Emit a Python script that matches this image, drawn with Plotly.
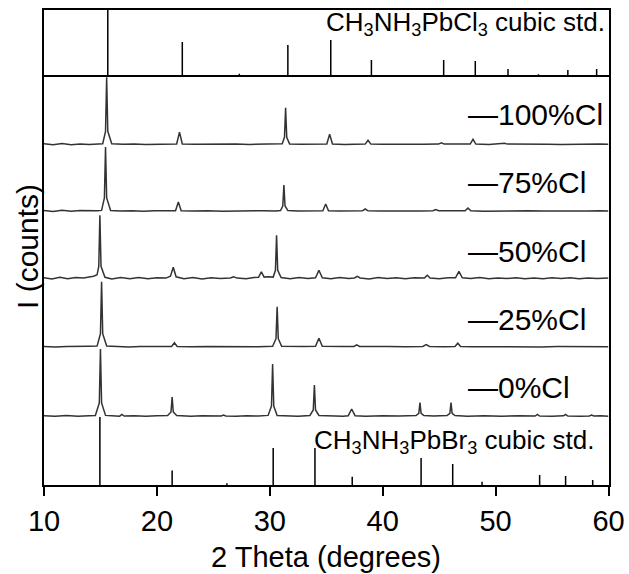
import plotly.graph_objects as go

# ---------------- data (2 theta in degrees, intensity in arbitrary units) ----------------
cl_std_pos = [15.65, 22.25, 27.3, 31.6, 35.4, 39.0, 45.4, 48.2, 51.1, 53.8, 56.4, 58.95]
cl_std_int = [67, 35, 3.3, 32, 37, 17, 17, 16, 8, 2.7, 7, 8]

br_std_pos = [14.95, 21.35, 26.2, 30.3, 34.0, 37.3, 43.4, 46.2, 48.8, 53.9, 56.2, 58.6]
br_std_int = [68, 14.5, 1.7, 37, 37, 8.3, 27, 21, 3.3, 10, 9, 5]

x_0 = [10.0, 11.0, 12.0, 13.0, 14.0, 14.55, 14.9, 15.0, 15.1, 15.45, 16.0, 16.7, 16.9, 17.1, 18.0, 19.0, 20.0,
       20.95, 21.25, 21.35, 21.45, 21.75, 23.0, 24.0, 25.7, 25.9, 26.1, 27.0, 28.0, 29.0, 29.85, 30.15, 30.25,
       30.35, 30.65, 31.5, 32.5, 33.55, 33.85, 33.95, 34.05, 34.35, 35.5, 36.5, 36.95, 37.25, 37.55, 38.5, 40.0,
       41.5, 42.95, 43.2, 43.3, 43.4, 43.65, 44.5, 45.7, 45.95, 46.05, 46.15, 46.4, 47.5, 49.0, 50.5, 52.0, 53.5,
       53.7, 53.9, 55.0, 56.0, 56.2, 56.4, 57.5, 58.3, 58.5, 58.7, 59.3, 60.0]
y_0 = [0.3, -0.3, 0.4, -0.2, 0.3, 0.5, 13, 67, 13, 0.6, 0.2, -0.2, 1.5, -0.1, 0.3, -0.3, 0.2,
       0.5, 4, 19, 4, 0.4, -0.2, 0.2, 0.1, 1.0, 0.1, -0.2, 0.3, 0.0, 0.6, 10, 52,
       10, 0.6, 0.1, -0.2, 0.5, 6, 31, 6, 0.5, 0.0, -0.2, 0.3, 7, 0.3, -0.2, 0.3,
       -0.1, 0.4, 2.7, 13.5, 2.7, 0.4, 0.0, 0.4, 2.7, 13.5, 2.7, 0.4, -0.2, 0.3, -0.3, 0.2, 0.0,
       1.5, 0.0, -0.3, 0.2, 1.5, 0.0, -0.2, 0.1, 1.0, 0.0, 0.3, -0.2]

x_25 = [10.0, 11.0, 12.0, 13.0, 14.0, 14.7, 15.0, 15.1, 15.2, 15.55, 16.5, 17.5, 18.5, 19.5, 20.5, 21.3, 21.55,
        21.8, 23.0, 24.5, 26.0, 27.5, 29.0, 30.25, 30.55, 30.65, 30.75, 31.05, 32.0, 33.0, 34.05, 34.35, 34.65,
        35.5, 36.5, 37.45, 37.7, 37.95, 39.0, 40.5, 42.0, 43.55, 43.85, 44.15, 45.5, 46.4, 46.65, 46.9, 48.0,
        49.5, 51.0, 52.5, 54.0, 55.5, 57.0, 58.5, 60.0]
y_25 = [0.2, -0.2, 0.3, 0.0, 0.4, 0.6, 13, 65, 13, 0.6, 0.1, -0.2, 0.2, -0.1, 0.2, 0.3, 4,
        0.3, -0.1, 0.2, 0.0, 0.3, -0.1, 0.5, 8, 40, 8, 0.5, 0.0, 0.2, 0.4, 8.5, 0.4,
        0.0, 0.2, 0.2, 1.8, 0.2, -0.1, 0.2, 0.0, 0.2, 2, 0.2, -0.1, 0.2, 3.5, 0.2, 0.0,
        -0.2, 0.2, 0.0, -0.2, 0.1, -0.1, 0.2, 0.0]

x_50 = [10.0, 10.7, 11.4, 12.1, 12.8, 13.5, 14.0, 14.4, 14.7, 14.85, 14.95, 15.05, 15.4, 16.0, 16.8, 17.6, 18.4,
        19.2, 20.0, 20.8, 21.2, 21.45, 21.7, 22.4, 23.2, 24.0, 24.8, 25.6, 26.5, 26.8, 27.1, 27.9, 28.6, 29.0,
        29.25, 29.5, 29.9, 30.3, 30.5, 30.6, 30.7, 31.0, 31.8, 32.6, 33.4, 34.05, 34.35, 34.65, 35.4, 36.2,
        37.0, 37.5, 37.75, 38.0, 38.8, 39.6, 40.4, 41.2, 42.0, 42.8, 43.7, 43.95, 44.2, 45.0, 45.8, 46.45,
        46.75, 47.05, 47.8, 48.6, 49.4, 50.2, 51.0, 51.8, 52.6, 53.4, 54.2, 55.0, 55.8, 56.6, 57.4, 58.2, 59.0,
        60.0]
y_50 = [0.5, -0.8, 1.0, -0.5, 0.8, 0.2, 1.2, 2.0, 3.5, 12, 63, 12, 1.0, -0.6, 0.9, -0.4, 0.7,
        -0.5, 0.6, 0.2, 2.0, 11, 1.5, -0.4, 0.8, -0.6, 0.5, -0.3, 0.4, 1.5, 0.2, -0.5, 0.9, 1.0,
        6.5, 1.2, 1.5, 1.2, 8, 43, 8, 0.8, -0.4, 0.7, -0.3, 0.6, 8, 0.5, -0.5, 0.8,
        -0.3, 0.4, 2, 0.3, -0.6, 0.7, -0.2, 0.5, -0.4, 0.6, 0.3, 3, 0.3, -0.4, 0.6, 0.5,
        7, 0.5, -0.3, 0.7, -0.5, 0.4, -0.2, 0.6, -0.5, 0.3, -0.4, 0.6, -0.2, 0.5, -0.5, 0.3, -0.3,
        0.2]

x_75 = [10.0, 10.8, 11.6, 12.4, 13.2, 14.0, 14.7, 15.1, 15.35, 15.45, 15.55, 15.9, 16.8, 17.8, 18.8, 19.8, 20.8,
        21.65, 21.9, 22.15, 23.2, 24.5, 25.8, 27.0, 28.2, 29.4, 30.5, 30.95, 31.15, 31.25, 31.35, 31.6, 32.5,
        33.6, 34.7, 34.95, 35.2, 36.2, 37.4, 38.2, 38.45, 38.7, 39.8, 41.0, 42.2, 43.4, 44.45, 44.7, 44.95,
        46.0, 47.3, 47.55, 47.8, 49.0, 50.3, 51.6, 52.9, 54.2, 55.5, 56.8, 58.1, 59.2, 60.0]
y_75 = [0.6, -0.4, 0.8, -0.3, 0.5, 0.0, 0.3, 0.6, 13, 64, 13, 0.5, -0.1, 0.3, -0.2, 0.2, 0.0,
        0.3, 9, 0.3, 0.0, 0.3, -0.2, 0.2, -0.1, 0.3, 0.1, 0.4, 5, 26, 5, 0.4, 0.0,
        -0.2, 0.3, 7, 0.3, -0.1, 0.2, 0.2, 2, 0.2, 0.0, -0.2, 0.2, 0.0, 0.2, 1.5, 0.2,
        -0.1, 0.2, 3, 0.2, -0.2, 0.1, -0.2, 0.2, 0.0, -0.2, 0.2, -0.1, 0.2, 0.0]

x_100 = [10.0, 10.8, 11.6, 12.4, 13.2, 14.0, 14.8, 15.2, 15.45, 15.55, 15.65, 16.0, 17.0, 18.0, 19.0, 20.0, 21.0,
         21.75, 22.0, 22.25, 23.4, 24.6, 25.8, 27.0, 28.2, 29.4, 30.6, 31.1, 31.3, 31.4, 31.5, 31.75, 32.8,
         34.0, 35.05, 35.3, 35.55, 36.6, 37.8, 38.45, 38.7, 38.95, 40.0, 41.2, 42.4, 43.6, 44.95, 45.2, 45.45,
         46.6, 47.75, 48.0, 48.25, 49.4, 50.55, 50.8, 51.05, 52.2, 53.4, 54.6, 55.8, 57.0, 58.2, 59.2, 60.0]
y_100 = [0.5, -0.5, 0.7, -0.4, 0.4, -0.2, 0.4, 0.6, 13, 67, 13, 0.5, 0.0, 0.3, -0.2, 0.2, -0.1,
         0.3, 12, 0.3, 0.0, 0.2, -0.2, 0.3, -0.1, 0.2, 0.0, 0.5, 7, 36.6, 7, 0.4, 0.0,
         0.2, 0.3, 10, 0.3, -0.1, 0.2, 0.2, 4, 0.2, 0.0, -0.2, 0.2, 0.0, 0.2, 1.5, 0.2,
         0.0, 0.2, 5, 0.2, -0.1, 0.2, 1.0, 0.2, -0.1, 0.2, 0.0, -0.2, 0.2, 0.0, 0.2, 0.0]

sample_names = ["100%Cl", "75%Cl", "50%Cl", "25%Cl", "0%Cl"]
sample_x = [x_100, x_75, x_50, x_25, x_0]
sample_y = [y_100, y_75, y_50, y_25, y_0]
sample_offsets = [340.7, 274.0, 206.7, 138.3, 69.0]   # vertical stacking offsets

x_ticks = [10, 20, 30, 40, 50, 60]

# ---------------- figure ----------------
W, H = 629, 574
FONT = "Liberation Sans, Arial, Helvetica, sans-serif"
TRACE_COLOR = "#333333"

def px_x(p):
    return p / W

def px_y(p):
    return 1 - p / H

fig = go.Figure()

for name, xs, ys, off in zip(sample_names, sample_x, sample_y, sample_offsets):
    fig.add_trace(go.Scatter(
        x=xs, y=[v + off for v in ys], mode="lines", name=name,
        line=dict(color=TRACE_COLOR, width=1.5), showlegend=False,
        xaxis="x", yaxis="y"))

sx, sy = [], []
for p, h in zip(br_std_pos, br_std_int):
    sx += [p, p, None]
    sy += [0, h, None]
fig.add_trace(go.Scatter(x=sx, y=sy, mode="lines", line=dict(color="black", width=1.5),
                         showlegend=False, xaxis="x", yaxis="y"))

cx, cy = [], []
for p, h in zip(cl_std_pos, cl_std_int):
    cx += [p, p, None]
    cy += [0, h, None]
fig.add_trace(go.Scatter(x=cx, y=cy, mode="lines", line=dict(color="black", width=1.5),
                         showlegend=False, xaxis="x2", yaxis="y2"))

x_dom = [px_x(44), px_x(608.5)]
main_dom = [px_y(485), px_y(77)]
top_dom = [px_y(77), px_y(10)]

axis_common = dict(showgrid=False, zeroline=False, automargin=False,
                   linecolor="black", linewidth=1.5)

fig.update_layout(
    template="none",
    width=W, height=H,
    margin=dict(l=0, r=0, t=0, b=0, autoexpand=False),
    paper_bgcolor="white", plot_bgcolor="white",
    font=dict(family=FONT, color="black", size=29),
    showlegend=False,
    xaxis=dict(domain=x_dom, range=[10, 60], tickvals=x_ticks, ticktext=[str(t) for t in x_ticks],
               ticks="outside", ticklen=9, tickwidth=1.5, tickcolor="black",
               showline=True, mirror=True, anchor="y",
               tickfont=dict(size=29, family=FONT, color="black"),
               **axis_common),
    yaxis=dict(domain=main_dom, range=[0, 408], showticklabels=False, ticks="",
               showline=True, mirror=True, anchor="x", **axis_common),
    xaxis2=dict(domain=x_dom, range=[10, 60], matches="x", showticklabels=False, ticks="",
                showline=True, mirror=False, side="top", anchor="y2", **axis_common),
    yaxis2=dict(domain=top_dom, range=[0, 67], showticklabels=False, ticks="",
                showline=True, mirror=True, anchor="x2", **axis_common),
)

annotations = []
label_y = [114, 182.5, 251, 319, 387]
for name, ly in zip(sample_names, label_y):
    annotations.append(dict(text="\u2014" + name, xref="paper", yref="paper",
                            x=px_x(466), y=px_y(ly), xanchor="left", yanchor="middle",
                            showarrow=False, font=dict(size=30, family=FONT, color="black")))

annotations.append(dict(text="CH<sub>3</sub>NH<sub>3</sub>PbCl<sub>3</sub> cubic std.",
                        xref="paper", yref="paper", x=px_x(607), y=px_y(24),
                        xanchor="right", yanchor="middle", showarrow=False,
                        font=dict(size=26, family=FONT, color="black")))
annotations.append(dict(text="CH<sub>3</sub>NH<sub>3</sub>PbBr<sub>3</sub> cubic std.",
                        xref="paper", yref="paper", x=px_x(596), y=px_y(441),
                        xanchor="right", yanchor="middle", showarrow=False,
                        font=dict(size=26, family=FONT, color="black")))
annotations.append(dict(text="I (counts)", xref="paper", yref="paper",
                        x=px_x(27), y=px_y(247), xanchor="center", yanchor="middle",
                        textangle=-90, showarrow=False,
                        font=dict(size=30, family=FONT, color="black")))
annotations.append(dict(text="2 Theta (degrees)", xref="paper", yref="paper",
                        x=px_x(326), y=px_y(557), xanchor="center", yanchor="middle",
                        showarrow=False, font=dict(size=29, family=FONT, color="black")))
fig.update_layout(annotations=annotations)

fig.write_html("out.html")
